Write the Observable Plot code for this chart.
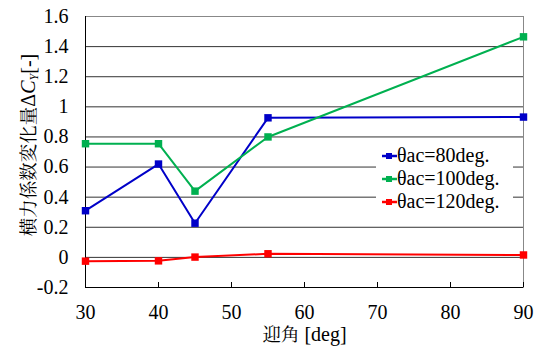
<!DOCTYPE html>
<html>
<head>
<meta charset="utf-8">
<script src="https://cdn.jsdelivr.net/npm/d3@7"></script>
<script src="https://cdn.jsdelivr.net/npm/@observablehq/plot@0.6"></script>
<style>
  html, body { margin: 0; padding: 0; background: #fff; }
  #chart { width: 542px; height: 347px; }
</style>
</head>
<body>
<div id="chart"></div>
<script>
const angles = [30, 40, 45, 55, 90];
const series80 = [0.31, 0.62, 0.227, 0.927, 0.932];
const series100 = [0.755, 0.755, 0.44, 0.80, 1.465];
const series120 = [-0.025, -0.023, 0.002, 0.024, 0.016];
const seriesNames = ["θac=80deg.", "θac=100deg.", "θac=120deg."];
const seriesColors = ["#0000C8", "#00B050", "#FF0000"];
const xTicks = [30, 40, 50, 60, 70, 80, 90];
const yTicks = [-0.2, 0, 0.2, 0.4, 0.6, 0.8, 1, 1.2, 1.4, 1.6];
const xTitleParts = ["迎角", " [deg]"];
const yTitleParts = ["横力係数変化量", "Δ", "C", "Y", "[-]"];

const allSeries = [series80, series100, series120];
const rows = [];
allSeries.forEach((vals, si) => {
  vals.forEach((v, i) => rows.push({angle: angles[i], value: v, series: seriesNames[si]}));
});

const latin = "Liberation Serif";
const cjk = "Noto Serif CJK JP";

const chart = Plot.plot({
  width: 542,
  height: 347,
  marginLeft: 85,
  marginRight: 19,
  marginTop: 16,
  marginBottom: 60,
  style: {fontFamily: latin, fontSize: "20px", color: "#000", background: "#fff"},
  x: {domain: [30, 90]},
  y: {domain: [-0.2, 1.6]},
  color: {domain: seriesNames, range: seriesColors},
  marks: [
    Plot.gridY(yTicks, {stroke: "#333", strokeOpacity: 1, strokeWidth: 1}),
    Plot.frame({stroke: "#888"}),
    Plot.ruleX([30], {stroke: "#000"}),
    Plot.ruleY([-0.2], {stroke: "#000"}),
    Plot.axisX(xTicks, {tickSize: 5, dy: -5, text: null, label: null, stroke: "#000"}),
    Plot.axisX(xTicks, {tickSize: 0, tickPadding: 17, label: null, fontSize: 20, fontFamily: latin}),
    Plot.axisY(yTicks, {tickSize: 0, tickPadding: 17, label: null, fontSize: 20, fontFamily: latin,
      tickFormat: d => String(+d.toFixed(1))}),
    Plot.line(rows, {x: "angle", y: "value", z: "series", stroke: "series", strokeWidth: 2}),
    Plot.dot(rows, {x: "angle", y: "value", fill: "series", symbol: "square", r: 4.2})
  ]
});
d3.select(chart).attr("font-family", latin);
document.getElementById("chart").appendChild(chart);
const svg = d3.select(chart);

// X axis title
const xt = svg.append("text")
  .attr("x", 304.5).attr("y", 341)
  .attr("text-anchor", "middle")
  .attr("font-family", latin)
  .attr("font-size", 20)
  .attr("fill", "#000");
xt.append("tspan").attr("font-family", cjk).attr("font-size", 18.5).text(xTitleParts[0]);
xt.append("tspan").attr("font-family", latin).text(xTitleParts[1]);

// Y axis title with italic C and subscript Y
const yt = svg.append("text")
  .attr("transform", "translate(35,145) rotate(-90)")
  .attr("text-anchor", "middle")
  .attr("font-family", latin)
  .attr("font-size", 20)
  .attr("fill", "#000");
yt.append("tspan").attr("font-family", cjk).attr("font-size", 18.5).text(yTitleParts[0]);
yt.append("tspan").attr("font-family", latin).text(yTitleParts[1]);
yt.append("tspan").attr("font-family", latin).attr("font-style", "italic").text(yTitleParts[2]);
yt.append("tspan").attr("font-family", latin).attr("font-style", "italic").attr("font-size", 12).attr("dy", 3).text(yTitleParts[3]);
yt.append("tspan").attr("font-family", latin).attr("dy", -3).text(yTitleParts[4]);

// Legend
const lg = svg.append("g");
lg.append("rect").attr("x", 376).attr("y", 143).attr("width", 137).attr("height", 71).attr("fill", "#fff");
seriesNames.forEach((name, i) => {
  const base = 161.5 + i * 23;
  const cy = base - 5.5;
  lg.append("line").attr("x1", 382).attr("x2", 397).attr("y1", cy).attr("y2", cy)
    .attr("stroke", seriesColors[i]).attr("stroke-width", 2.5);
  lg.append("rect").attr("x", 386).attr("y", cy - 3).attr("width", 6).attr("height", 6)
    .attr("fill", seriesColors[i]);
  lg.append("text").attr("x", 397).attr("y", base).attr("text-anchor", "start")
    .attr("font-family", latin)
    .attr("font-size", 20).attr("fill", "#000").text(name);
});
</script>
</body>
</html>
